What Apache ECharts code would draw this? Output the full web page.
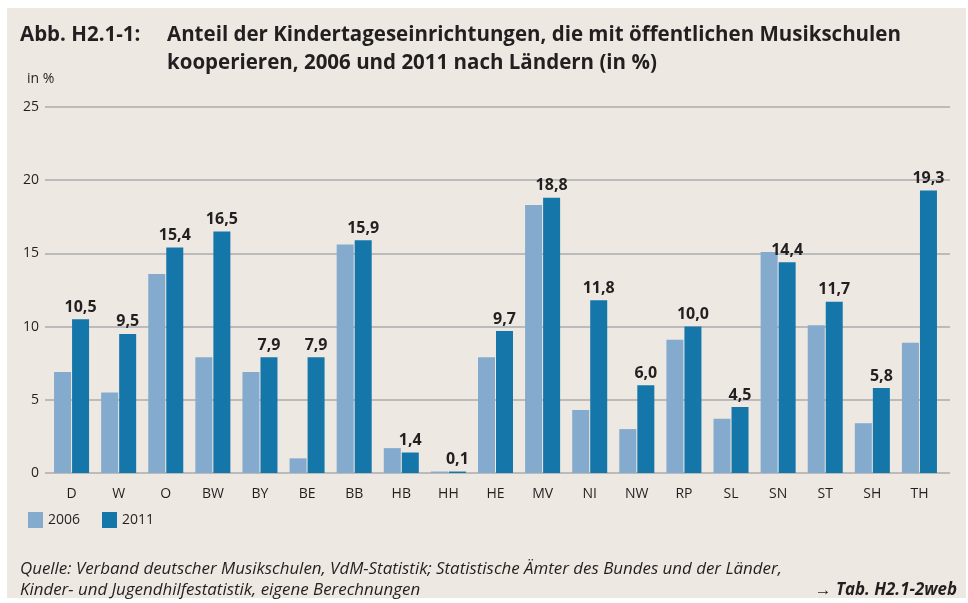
<!DOCTYPE html>
<html>
<head>
<meta charset="utf-8">
<script src="https://cdn.jsdelivr.net/npm/echarts@6/dist/echarts.min.js"></script>
<style>
  html, body { margin: 0; padding: 0; background: #fff; }
  #wrap { position: relative; width: 968px; height: 603px; }
  #paper { position: absolute; left: 7px; top: 8px; right: 2px; bottom: 5px; background: #ede9e2; }
  #chart { position: absolute; left: 0; top: 0; width: 968px; height: 603px; }
</style>
</head>
<body>
<div id="wrap">
  <div id="paper"></div>
  <div id="chart"></div>
</div>
<script>
const categories = ['D', 'W', 'O', 'BW', 'BY', 'BE', 'BB', 'HB', 'HH', 'HE', 'MV', 'NI', 'NW', 'RP', 'SL', 'SN', 'ST', 'SH', 'TH'];
const values2006 = [6.9, 5.5, 13.6, 7.9, 6.9, 1.0, 15.6, 1.7, 0.1, 7.9, 18.3, 4.3, 3.0, 9.1, 3.7, 15.1, 10.1, 3.4, 8.9];
const values2011 = [10.5, 9.5, 15.4, 16.5, 7.9, 7.9, 15.9, 1.4, 0.1, 9.7, 18.8, 11.8, 6.0, 10.0, 4.5, 14.4, 11.7, 5.8, 19.3];
const seriesNames = ['2006', '2011'];
const yTicks = [0, 5, 10, 15, 20, 25];

const font = 'Open Sans';
const ink = '#231f20';

const chart = echarts.init(document.getElementById('chart'));

chart.setOption({
  animation: false,
  textStyle: { fontFamily: font, color: ink },
  title: [
    {
      text: 'Abb. H2.1-1:',
      left: 20, top: 21, padding: 0,
      textStyle: { fontFamily: font, fontSize: 20.5, fontWeight: 'bold', color: ink, lineHeight: 28 }
    },
    {
      text: 'Anteil der Kindertageseinrichtungen, die mit öffentlichen Musikschulen\nkooperieren, 2006 und 2011 nach Ländern (in %)',
      left: 167, top: 21, padding: 0,
      textStyle: { fontFamily: font, fontSize: 20.5, fontWeight: 'bold', color: ink, lineHeight: 28 }
    },
    {
      text: 'in %',
      left: 27, top: 72, padding: 0,
      textStyle: { fontFamily: font, fontSize: 14, fontWeight: 'normal', color: ink }
    },
    {
      text: 'Quelle: Verband deutscher Musikschulen, VdM-Statistik; Statistische Ämter des Bundes und der Länder,\nKinder- und Jugendhilfestatistik, eigene Berechnungen',
      left: 20, top: 559, padding: 0,
      textStyle: { fontFamily: font, fontSize: 16.9, fontStyle: 'italic', fontWeight: 'normal', color: ink, lineHeight: 21 }
    },
    {
      text: '→ Tab. H2.1-2web',
      right: 11, top: 580, padding: 0,
      textStyle: { fontFamily: font, fontSize: 16.9, fontStyle: 'italic', fontWeight: 'bold', color: ink, lineHeight: 21 }
    }
  ],
  legend: {
    left: 28, top: 512, padding: 0,
    itemWidth: 15, itemHeight: 16, itemGap: 22,
    icon: 'rect',
    textStyle: { fontFamily: font, fontSize: 14, color: ink },
    data: seriesNames
  },
  grid: [
    { left: 45, right: 18, top: 107, bottom: 130 },
    { left: 48, right: 25, top: 107, bottom: 130 }
  ],
  xAxis: [
    { gridIndex: 0, type: 'category', data: categories, show: false },
    {
      gridIndex: 1, type: 'category', data: categories,
      axisLine: { show: false }, axisTick: { show: false },
      axisLabel: { fontFamily: font, fontSize: 14, color: ink, margin: 14 }
    }
  ],
  yAxis: [
    {
      gridIndex: 0, type: 'value', min: yTicks[0], max: yTicks[yTicks.length - 1], interval: 5,
      axisLine: { show: false }, axisTick: { show: false },
      axisLabel: { fontFamily: font, fontSize: 14, color: ink, margin: 6 },
      splitLine: { lineStyle: { color: '#ababae', width: 1.5 } }
    },
    {
      gridIndex: 1, type: 'value', min: yTicks[0], max: yTicks[yTicks.length - 1], interval: 5,
      show: false, splitLine: { show: false }
    }
  ],
  series: [
    {
      name: seriesNames[0], type: 'bar', xAxisIndex: 1, yAxisIndex: 1,
      data: values2006, barWidth: 17, barGap: '6%',
      itemStyle: { color: '#84aacd' }
    },
    {
      name: seriesNames[1], type: 'bar', xAxisIndex: 1, yAxisIndex: 1,
      data: values2011, barWidth: 17,
      itemStyle: { color: '#1576aa' },
      label: {
        show: true, position: 'top', distance: 4,
        fontFamily: font, fontSize: 16, fontWeight: 'bold', color: ink,
        formatter: p => p.value.toFixed(1).replace('.', ',')
      }
    }
  ]
});
</script>
</body>
</html>
